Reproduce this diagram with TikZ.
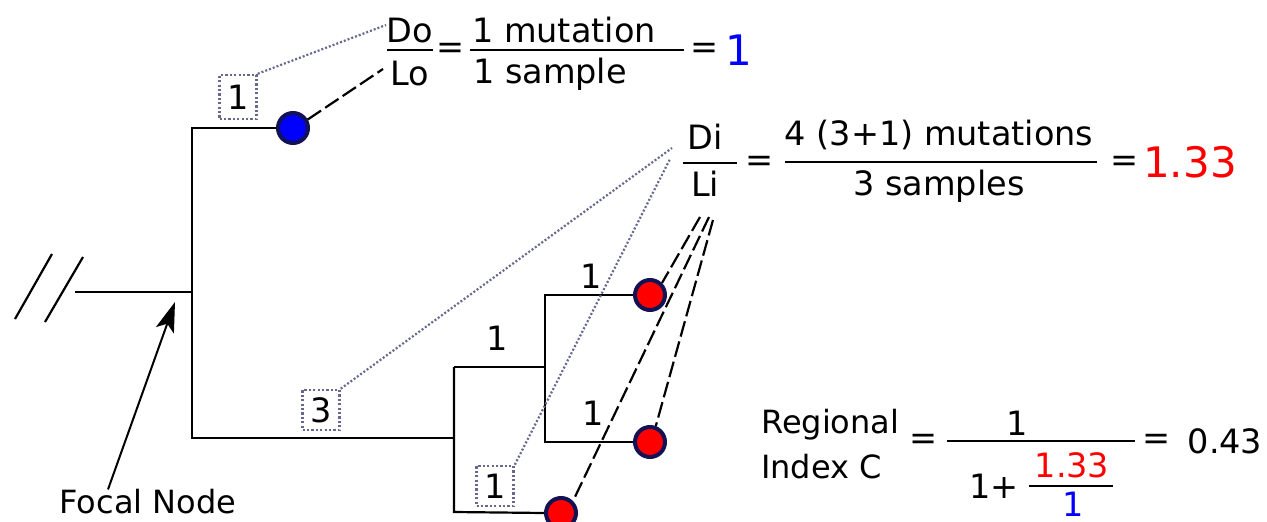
\documentclass[tikz,border=0pt]{standalone}
\usepackage{fontspec}
\setmainfont{DejaVu Sans}
\usepackage{xcolor}
\usetikzlibrary{arrows.meta}

\definecolor{navyline}{RGB}{18,18,84}
\definecolor{boxgray}{RGB}{104,104,140}

\tikzset{
  branch/.style={line width=2.2pt},
  leaf/.style={circle,draw=navyline,line width=4pt,minimum size=30pt,inner sep=0pt},
  countbox/.style={draw=boxgray,dash pattern=on 2.2pt off 2.2pt,line width=2.6pt,minimum width=37pt,minimum height=40pt},
  guide/.style={boxgray,dash pattern=on 2pt off 2pt,line width=2.2pt},
  link/.style={dash pattern=on 16pt off 5pt,line width=2.2pt},
  bar/.style={line width=1.6pt},
  big/.style={font=\fontsize{42}{50}\selectfont},
  textsm/.style={font=\fontsize{32}{38}\selectfont},
}

\begin{document}
\begin{tikzpicture}[x=1pt,y=-1pt, every node/.style={font=\fontsize{33.5}{40}\selectfont,inner sep=0pt}]
      \useasboundingbox (0,0) rectangle (1267,522);
      % break marks and root
      \draw[line width=2.2pt] (15,319) -- (52,254);
      \draw[line width=2.2pt] (45,322) -- (83,257);
      \coordinate (root) at (75,292);
      \coordinate (focal) at (192,292);
      \coordinate (top) at (192,128);
      \coordinate (bot) at (192,438);
      \coordinate (inA) at (454,438);
      \coordinate (inAtop) at (454,367);
      \coordinate (inAbot) at (454,512);
      \coordinate (inB) at (545,367);
      \coordinate (inBtop) at (545,295);
      \coordinate (inBbot) at (545,442);
      % leaves
      \node[leaf,fill=blue] (lo) at (293,128) {};
      \node[leaf,fill=red] (li1) at (650,295) {};
      \node[leaf,fill=red] (li2) at (650,442) {};
      \node[leaf,fill=red] (li3) at (561,513) {};
      % branches
      \draw[branch] (root) -- (focal);
      \draw[branch] (lo.west) -- (top) -- (bot) -- (inA);
      \draw[branch] (inAtop) -- (inAbot) -- (li3.west);
      \draw[branch] (inAtop) -- (inB);
      \draw[branch] (li1.west) -- (inBtop) -- (inBbot) -- (li2.west);
      % branch lengths
      \node (n1) at (591,276) {1};
      \node (n2) at (497,338) {1};
      \node (n3) at (593,413) {1};
      \node[countbox,minimum height=44pt] (bx1) at (238,97) {1};
      \node[countbox] (bx3) at (321,410) {3};
      \node[countbox] (bx5) at (495,486) {1};
      % focal node
      \node[textsm] (fn) at (148,502) {Focal Node};
      \coordinate (tip) at (175,302);
      \draw[line width=2pt,-{Stealth[length=30pt,width=19pt,inset=7pt]}] ([xshift=-40pt]fn.north) -- (tip);
      % Do / Lo
      \node (do) at (410,31) {Do};
      \node (lo2) at (410,74) {Lo};
      \draw[bar] (387,50) -- (433,50);
      \node (eq1) at (451,51) {=};
      \node (mut1) at (564,30) {1 mutation};
      \node (smp1) at (550,74) {1 sample};
      \draw[bar] (470,50) -- (684,50);
      \node (eq2) at (705,51) {=};
      \node[big,text=blue] (dlo) at (739,50) {1};
      \coordinate (dotop) at (386,25);
      \coordinate (lotop) at (383,69);
      \draw[guide] (bx1.north east) -- (dotop);
      \draw[link] (lo.30) -- (lotop);
      % Di / Li
      \node (di) at (705,137) {Di};
      \node (li) at (705,184) {Li};
      \draw[bar] (683,163) -- (737,163);
      \node (eq3) at (760,164) {=};
      \node (mut2) at (939,135) {4 (3+1) mutations};
      \node (smp2) at (939,186) {3 samples};
      \draw[bar] (785,162) -- (1097,162);
      \node (eq4) at (1125,164) {=};
      \node[big,text=red] (dli) at (1190,162) {1.33};
      \coordinate (dia) at (672,148);
      \coordinate (dib) at (670,159);
      \draw[guide] (bx3.north east) -- (dia);
      \draw[guide] (bx5.north east) -- (dib);
      \coordinate (la) at (700,217);
      \coordinate (lb) at (709,217);
      \coordinate (lc) at (713,220);
      \draw[link] (la) -- (li1.north east);
      \draw[link] (lb) -- (li3.north east);
      \draw[link] (lc) -- (li2.70);
      % regional index
      \node[textsm,anchor=west] (rg) at (761,425) {Regional};
      \node[textsm,anchor=west] (ix) at (761,467) {Index C};
      \node (eq5) at (924,442) {=};
      \node (one) at (1017,423) {1};
      \draw[bar] (947,441) -- (1135,441);
      \node (onep) at (994,486) {1+};
      \node[text=red] (rdi) at (1072,465) {1.33};
      \draw[bar] (1029,486) -- (1113,486);
      \node[text=blue] (rdo) at (1073,504) {1};
      \node (eq6) at (1157,442) {=};
      \node (res) at (1225,441) {0.43};
\end{tikzpicture}
\end{document}
